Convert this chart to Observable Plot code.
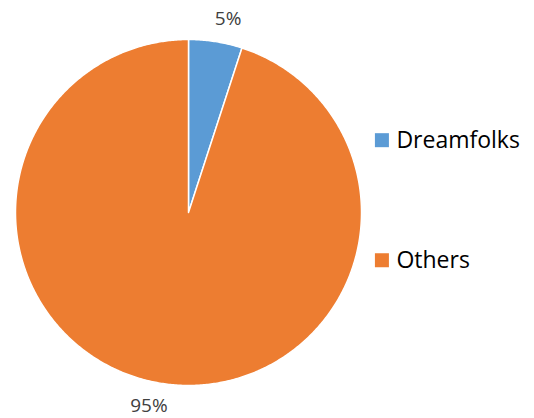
<!DOCTYPE html>
<html><head><meta charset="utf-8">
<script src="https://cdn.jsdelivr.net/npm/d3@7"></script>
<script src="https://cdn.jsdelivr.net/npm/@observablehq/plot@0.6"></script>
<style>html,body{margin:0;padding:0;background:#fff;}</style>
</head><body><div id="chart"></div>
<script>
const categories = ["Dreamfolks", "Others"];
const shares = [5, 95];
const labels = ["5%", "95%"];
const colors = ["#5B9BD5", "#ED7D31"];

const total = d3.sum(shares);
const slices = [];
let acc = 0;
categories.forEach((c, i) => {
  const a0 = acc / total * 2 * Math.PI;
  const a1 = (acc + shares[i]) / total * 2 * Math.PI;
  slices.push({category: c, a0, a1, label: labels[i], index: i});
  acc += shares[i];
});

// polygon outline of each wedge (geometry only)
const wedgePoints = [];
slices.forEach(s => {
  wedgePoints.push({category: s.category, x: 0, y: 0});
  const n = Math.max(2, Math.ceil((s.a1 - s.a0) / (Math.PI / 360)));
  for (let k = 0; k <= n; k++) {
    const a = s.a0 + (s.a1 - s.a0) * k / n;
    wedgePoints.push({category: s.category, x: Math.sin(a), y: Math.cos(a)});
  }
});

const labelR = 1.14, labelShift = 0.045;
const labelPts = slices.map(s => {
  const m = (s.a0 + s.a1) / 2 + labelShift;
  return {label: s.label, x: labelR * Math.sin(m), y: labelR * Math.cos(m)};
});

const legendX = 1.118, legendTop = 0.418, legendStep = 0.694;
const legendPts = slices.map(s => ({category: s.category, x: legendX, y: legendTop - s.index * legendStep}));

const chart = Plot.plot({
  width: 534,
  height: 418,
  margin: 0,
  style: {fontFamily: "'Open Sans', sans-serif", background: "#fff", color: "#000"},
  x: {domain: [-1, 1], range: [15, 361], axis: null},
  y: {domain: [-1, 1], range: [385, 39], axis: null},
  color: {domain: categories, range: colors},
  marks: [
    Plot.line(wedgePoints, {x: "x", y: "y", z: "category", fill: "category", stroke: "#fff", strokeWidth: 1.5, curve: "linear-closed"}),
    Plot.text(labelPts, {x: "x", y: "y", text: "label", fontSize: 19, fill: "#404040"}),
    Plot.dot(legendPts, {x: "x", y: "y", symbol: "square", r: 7.9, fill: "category", stroke: null}),
    Plot.text(legendPts, {x: "x", y: "y", text: "category", dx: 14.5, textAnchor: "start", fontSize: 23, fill: "#000"})
  ]
});
document.getElementById("chart").appendChild(chart);
</script>
</body></html>
